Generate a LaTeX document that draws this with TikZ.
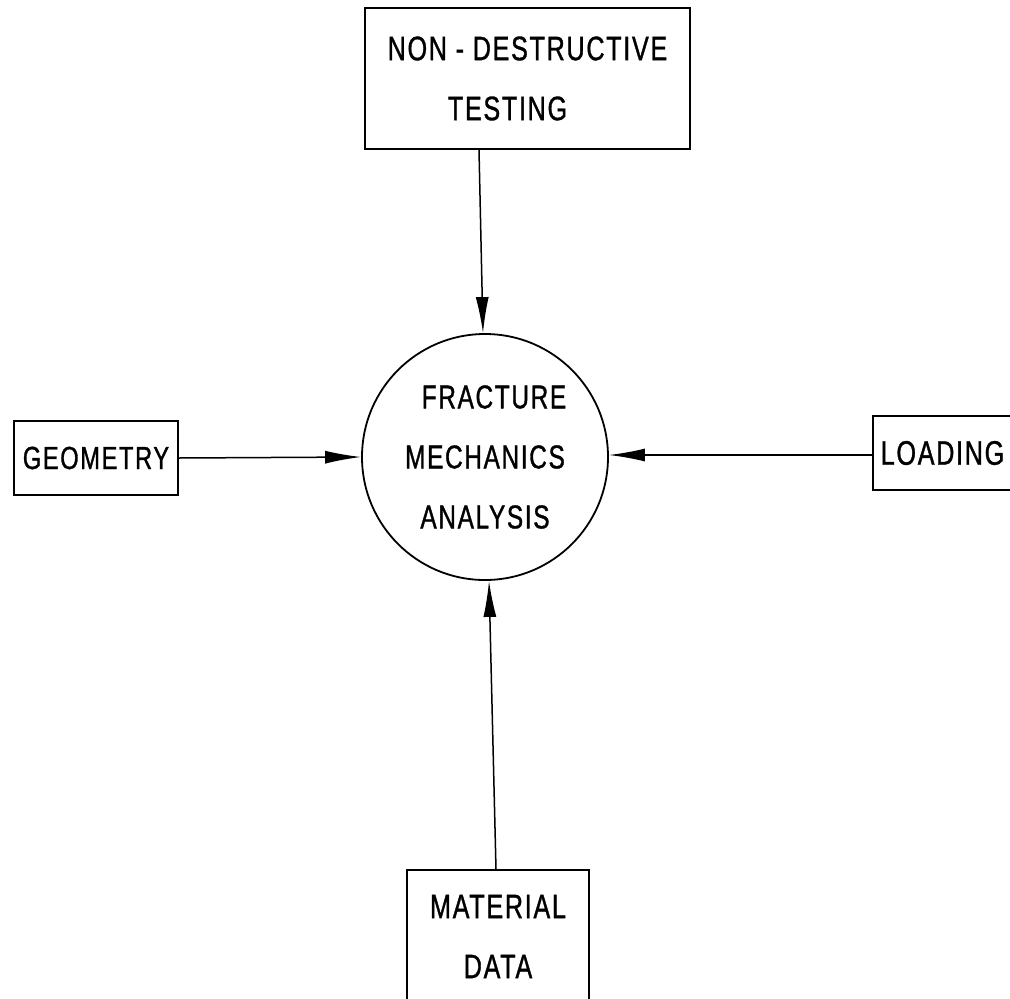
\documentclass[tikz,border=0pt]{standalone}
\usepackage{fontspec}
\setmainfont{Liberation Sans}[FakeStretch=0.74,LetterSpace=5,FakeBold=1]
\usetikzlibrary{arrows.meta}
\begin{document}
\begin{tikzpicture}[x=1pt,y=-1pt,
  box/.style={draw,line width=1.8pt,inner sep=0pt,align=center,
    font=\fontsize{34}{60}\selectfont},
  hub/.style={draw,circle,line width=1.8pt,inner sep=0pt,align=center,
    minimum size=246pt,font=\fontsize{33}{60}\selectfont},
  arr/.style={line width=1.5pt,-{Latex[length=36pt,width=13pt]}}]
\useasboundingbox (0,0) rectangle (1010,999);
\clip (0,0) rectangle (1010,999);
\node[hub] (fma) at (485,457) {\hspace*{18pt}FRACTURE\\MECHANICS\hspace*{12pt}\\ANALYSIS};
\node[box,minimum width=325pt,minimum height=141pt] (ndt) at (527.5,78.5) {NON - DESTRUCTIVE\\TESTING\hspace*{40pt}};
\node[box,minimum width=164pt,minimum height=74pt,font=\fontsize{32}{60}\selectfont] (geo) at (96,458) {GEOMETRY};
\node[box,minimum width=139pt,minimum height=74pt] (load) at (942.5,453) {LOADING};
\node[box,minimum width=182pt,minimum height=133pt] (mat) at (498,936.5) {MATERIAL\\DATA};
\draw[arr] ([xshift=-48.5pt]ndt.south) -- ([xshift=-2pt]fma.north);
\draw[arr] (geo.east) -- (fma.west);
\draw[arr] ([yshift=-2pt]load.west) -- ([yshift=2pt]fma.east);
\draw[arr] ([xshift=-2pt]mat.north) -- ([xshift=4pt]fma.south);
\end{tikzpicture}
\end{document}
